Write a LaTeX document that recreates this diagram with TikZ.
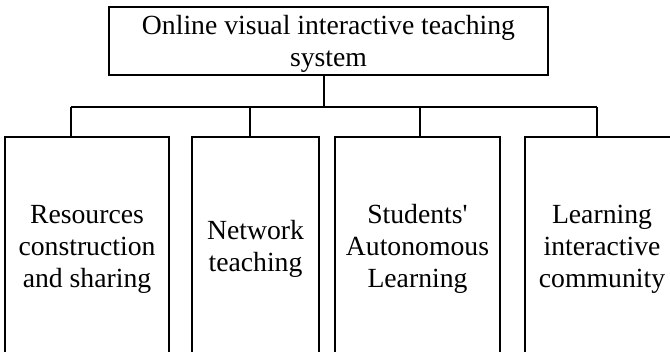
\documentclass[tikz,border=0pt]{standalone}
\usepackage{fontspec}
\setmainfont{Liberation Serif}[Ligatures=TeXOff]
\begin{document}
\begin{tikzpicture}[x=1pt,y=-1pt,
  box/.style={draw, line width=1.2pt, rectangle, inner sep=0pt},
  txt/.style={inner sep=0pt, align=center, font=\fontsize{27.7}{32}\selectfont},
  conn/.style={line width=1.2pt}]
\useasboundingbox (0,0) rectangle (670,352);
\clip (0,0) rectangle (670,352);
\fill[white] (0,0) rectangle (670,352);
\node[box, minimum width=439pt, minimum height=68pt] (top) at (328.5,41) {};
\node[txt] (topt) at ([yshift=-3pt]top.center) {Online visual interactive teaching\\system};
\node[box, minimum width=164pt, minimum height=220pt] (b1) at (87,247) {};
\node[box, minimum width=127pt, minimum height=220pt] (b2) at (255.5,247) {};
\node[box, minimum width=165pt, minimum height=220pt] (b3) at (417.5,247) {};
\node[box, minimum width=154pt, minimum height=220pt] (b4) at (602,247) {};
\node[txt] (t1) at ([yshift=-2pt]b1.center) {Resources\\construction\\and sharing};
\node[txt] (t2) at ([yshift=-2pt]b2.center) {Network\\teaching};
\node[txt] (t3) at ([yshift=-2pt]b3.center) {Students'\\Autonomous\\Learning};
\node[txt] (t4) at ([yshift=-2pt]b4.center) {Learning\\interactive\\community};
\coordinate (j0) at (324,107);
\coordinate (d1) at (71,107);
\coordinate (d2) at (250,107);
\coordinate (d3) at (420,107);
\coordinate (d4) at (597,107);
\draw[conn] (j0 |- top.south) -- (j0);
\draw[conn] (d1) -- (d4);
\draw[conn] (d1) -- (d1 |- b1.north);
\draw[conn] (d2) -- (d2 |- b2.north);
\draw[conn] (d3) -- (d3 |- b3.north);
\draw[conn] (d4) -- (d4 |- b4.north);
\end{tikzpicture}
\end{document}
